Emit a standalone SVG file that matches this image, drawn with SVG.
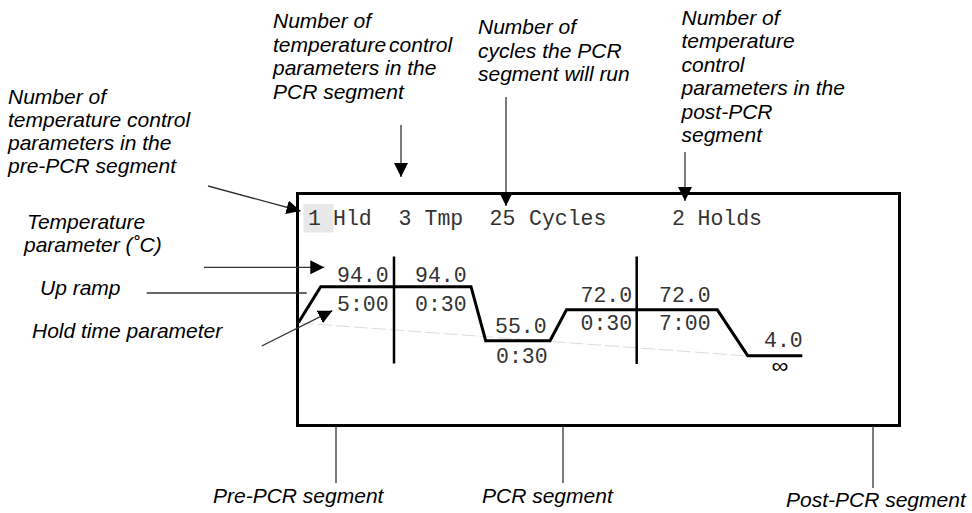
<svg xmlns="http://www.w3.org/2000/svg" width="972" height="513" viewBox="0 0 972 513">
  <defs>
    <style>
      .note { font-family: "Liberation Sans", Arial, sans-serif; font-style: italic; font-size: 21px; fill: #000; }
      .lcd { font-family: "Liberation Mono", "Courier New", monospace; font-size: 21.5px; fill: #333; }
      .lead { fill: none; stroke: #333; stroke-width: 1.3; }
      .trace { fill: none; stroke: #000; stroke-width: 3; stroke-linejoin: miter; }
      .divider { stroke: #000; stroke-width: 2.5; }
    </style>
    <marker id="head" viewBox="0 0 14 14" refX="14" refY="7" markerWidth="14" markerHeight="14" markerUnits="userSpaceOnUse" orient="auto">
      <path d="M0,0 L14,7 L0,14 z" fill="#000"/>
    </marker>
  </defs>

  <rect width="972" height="513" fill="#fff"/>

  <!-- Display panel -->
  <g id="display">
    <rect x="297.5" y="193.5" width="602" height="232" fill="#fff" stroke="#000" stroke-width="3"/>
    <rect x="303.5" y="204" width="30" height="28.5" fill="#e8e8e8"/>
    <text class="lcd" x="308" y="225">1</text>
    <text class="lcd" x="333" y="225">Hld</text>
    <text class="lcd" x="398.5" y="225">3</text>
    <text class="lcd" x="424.5" y="225">Tmp</text>
    <text class="lcd" x="489.5" y="225">25</text>
    <text class="lcd" x="529" y="225">Cycles</text>
    <text class="lcd" x="672" y="225">2</text>
    <text class="lcd" x="697.5" y="225">Holds</text>
  </g>

  <!-- Temperature profile -->
  <g id="profile">
    <line x1="300" y1="323" x2="748" y2="356" stroke="#ddd" stroke-width="1" stroke-dasharray="14 4"/>
    <polyline class="trace" points="298.5,322.5 320.7,286.7 471,286.7 485.7,340.7 550,340.7 566.5,309.8 717.3,309.8 747.7,355.7 802.3,355.7"/>
    <line class="divider" x1="394" y1="256.5" x2="394" y2="363.5"/>
    <line class="divider" x1="636.7" y1="256.5" x2="636.7" y2="364"/>
  </g>

  <g id="values">
    <text class="lcd" x="337" y="282">94.0</text>
    <text class="lcd" x="415" y="282">94.0</text>
    <text class="lcd" x="337" y="311">5:00</text>
    <text class="lcd" x="415" y="311">0:30</text>
    <text class="lcd" x="495" y="333">55.0</text>
    <text class="lcd" x="496" y="362.5">0:30</text>
    <text class="lcd" x="580.5" y="302">72.0</text>
    <text class="lcd" x="659" y="302">72.0</text>
    <text class="lcd" x="580.5" y="330">0:30</text>
    <text class="lcd" x="659" y="330">7:00</text>
    <text class="lcd" x="764" y="347">4.0</text>
    <text transform="translate(780,373) scale(1.25,1.1)" text-anchor="middle" font-family="Liberation Sans, Arial, sans-serif" font-size="19" fill="#000">∞</text>
  </g>

  <!-- Callout labels -->
  <g id="label-pre-count" class="note">
    <text x="8" y="103.5">Number of</text>
    <text x="8" y="126.5">temperature control</text>
    <text x="8" y="149.5">parameters in the</text>
    <text x="8" y="172.5">pre-PCR segment</text>
  </g>
  <g id="label-temperature" class="note">
    <text x="27" y="228.5">Temperature</text>
    <text x="24" y="251.5">parameter (˚C)</text>
  </g>
  <g id="label-up-ramp" class="note">
    <text x="40" y="295">Up ramp</text>
  </g>
  <g id="label-hold-time" class="note">
    <text x="32" y="338">Hold time parameter</text>
  </g>
  <g id="label-pcr-count" class="note">
    <text x="273" y="28">Number of</text>
    <text x="273" y="51.5" word-spacing="-3">temperature control</text>
    <text x="273" y="75">parameters in the</text>
    <text x="273" y="98.5">PCR segment</text>
  </g>
  <g id="label-cycles" class="note">
    <text x="478" y="34">Number of</text>
    <text x="478" y="57.5">cycles the PCR</text>
    <text x="478" y="81">segment will run</text>
  </g>
  <g id="label-post-count" class="note">
    <text x="681.5" y="24.5">Number of</text>
    <text x="681.5" y="48">temperature</text>
    <text x="681.5" y="71.5">control</text>
    <text x="681.5" y="95">parameters in the</text>
    <text x="681.5" y="118.5">post-PCR</text>
    <text x="681.5" y="142">segment</text>
  </g>
  <g id="label-pre-segment" class="note">
    <text x="213" y="503">Pre-PCR segment</text>
  </g>
  <g id="label-pcr-segment" class="note">
    <text x="482" y="503">PCR segment</text>
  </g>
  <g id="label-post-segment" class="note">
    <text x="786" y="507">Post-PCR segment</text>
  </g>

  <!-- Leader lines -->
  <g id="connectors">
    <line class="lead" x1="208" y1="186" x2="300.5" y2="211" marker-end="url(#head)"/>
    <line class="lead" x1="204" y1="267.3" x2="324.3" y2="267.3" marker-end="url(#head)"/>
    <line class="lead" x1="146.7" y1="293" x2="306.7" y2="293"/>
    <line class="lead" x1="261.7" y1="346" x2="332.3" y2="310.7" marker-end="url(#head)"/>
    <line class="lead" x1="401" y1="125" x2="401" y2="177" marker-end="url(#head)"/>
    <line class="lead" x1="506" y1="97" x2="506" y2="206" marker-end="url(#head)"/>
    <line class="lead" x1="685" y1="152" x2="685" y2="201" marker-end="url(#head)"/>
    <line class="lead" x1="336" y1="426" x2="336" y2="483"/>
    <line class="lead" x1="563" y1="426" x2="563" y2="483"/>
    <line class="lead" x1="873" y1="426" x2="873" y2="488"/>
  </g>
</svg>
